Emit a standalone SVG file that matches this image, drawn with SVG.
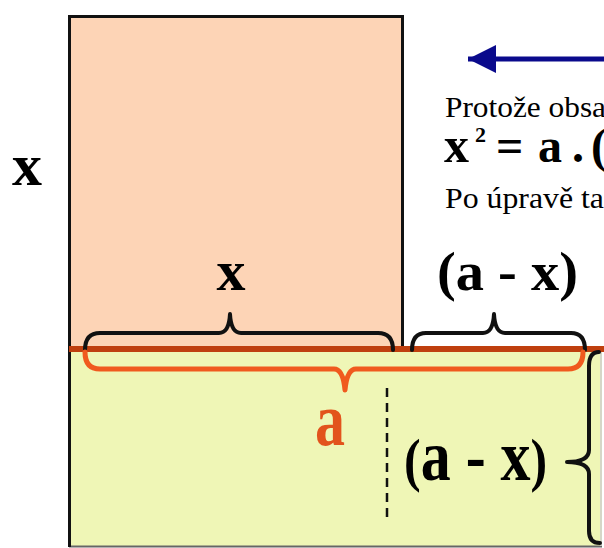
<svg xmlns="http://www.w3.org/2000/svg" width="604" height="548" viewBox="0 0 604 548">
<style>
.serif{font-family:"Liberation Serif","Times New Roman",serif;}
.b{font-weight:bold;}
.brace{fill:none;stroke:#111;stroke-width:4;stroke-linejoin:round;stroke-linecap:round;}
.obrace{fill:none;stroke:#F05A1E;stroke-width:5;stroke-linejoin:round;stroke-linecap:round;}
.txt{font-size:30px;fill:#000;}
</style>
<defs>
<marker id="ah" markerUnits="userSpaceOnUse" markerWidth="28" markerHeight="28" refX="28" refY="14" orient="auto" viewBox="0 0 28 28">
<path d="M0,0 L28,14 L0,28 Z" fill="#0A0A8C"/>
</marker>
</defs>
<rect width="604" height="548" fill="#fff"/>

<g id="rect-a">
<rect x="69" y="349" width="533" height="197" fill="#EFF6B6"/>
<line x1="69" y1="546.5" x2="602" y2="546.5" stroke="#666" stroke-width="2"/>
<line x1="601" y1="352" x2="601" y2="546" stroke="#ccc" stroke-width="1.5"/>
<line x1="69.5" y1="349" x2="69.5" y2="547" stroke="#111" stroke-width="3"/>
</g>

<g id="square-x">
<rect x="69.5" y="16.5" width="333" height="332" fill="#FDD4B6" stroke="#111" stroke-width="3"/>
</g>

<g id="base-line">
<line x1="69" y1="349" x2="604" y2="349" stroke="#BF3F0E" stroke-width="6"/>
</g>

<g id="divider">
<line x1="387" y1="388" x2="387" y2="522" stroke="#111" stroke-width="2.5" stroke-dasharray="9 6"/>
</g>

<g id="brace-x">
<path class="brace" d="M85,350 Q85,333 100,333 L219,333 Q229,333 230,314 Q231,333 241,333 L378,333 Q393,333 393,350"/>
</g>
<g id="brace-ax-top">
<path class="brace" d="M412,350 Q412,333 426,333 L483,333 Q493,333 494,314 Q495,333 505,333 L571,333 Q585,333 585,350"/>
</g>
<g id="brace-a">
<path class="obrace" d="M85,352 Q85,369 100,369 L334,369 Q343,369 345,390 Q347,369 356,369 L568,369 Q583,369 583,352"/>
</g>
<g id="brace-ax-right">
<path class="brace" d="M599,352 Q589,352 589,366 L589,450 Q589,462 567,462 Q589,462 589,474 L589,531 Q589,543 600,543"/>
</g>

<g id="labels">
<text class="serif b" x="27" y="185" font-size="60" text-anchor="middle" fill="#000">x</text>
<text class="serif b" x="231" y="290" font-size="58" text-anchor="middle" fill="#000">x</text>
<text class="serif b" x="437" y="290" font-size="54" textLength="141" lengthAdjust="spacingAndGlyphs" fill="#000">(a - x)</text>
<text class="serif b" transform="translate(330,445) scale(1,1.28)" font-size="60" text-anchor="middle" fill="#E2531C">a</text>
<text class="serif b" transform="translate(404,480) scale(1,1.2)" fill="#000"><tspan font-size="50">(</tspan><tspan font-size="60">a - x</tspan><tspan font-size="50">)</tspan></text>
</g>

<g id="explanation">
<text class="serif txt" x="445" y="117" textLength="161" lengthAdjust="spacingAndGlyphs">Protože obsa</text>
<text class="serif b" y="162" fill="#000"><tspan x="444" font-size="50">x</tspan><tspan x="475" y="142" font-size="22">2</tspan><tspan x="496" y="162" font-size="48">=</tspan><tspan x="538" font-size="48">a</tspan><tspan x="572" font-size="48">.</tspan><tspan x="591" font-size="48">(</tspan></text>
<text class="serif txt" x="445" y="208" textLength="159" lengthAdjust="spacingAndGlyphs">Po úpravě ta</text>
</g>

<g id="connectors">
<line x1="604" y1="59" x2="468" y2="59" stroke="#0A0A8C" stroke-width="5" marker-end="url(#ah)"/>
</g>
</svg>
